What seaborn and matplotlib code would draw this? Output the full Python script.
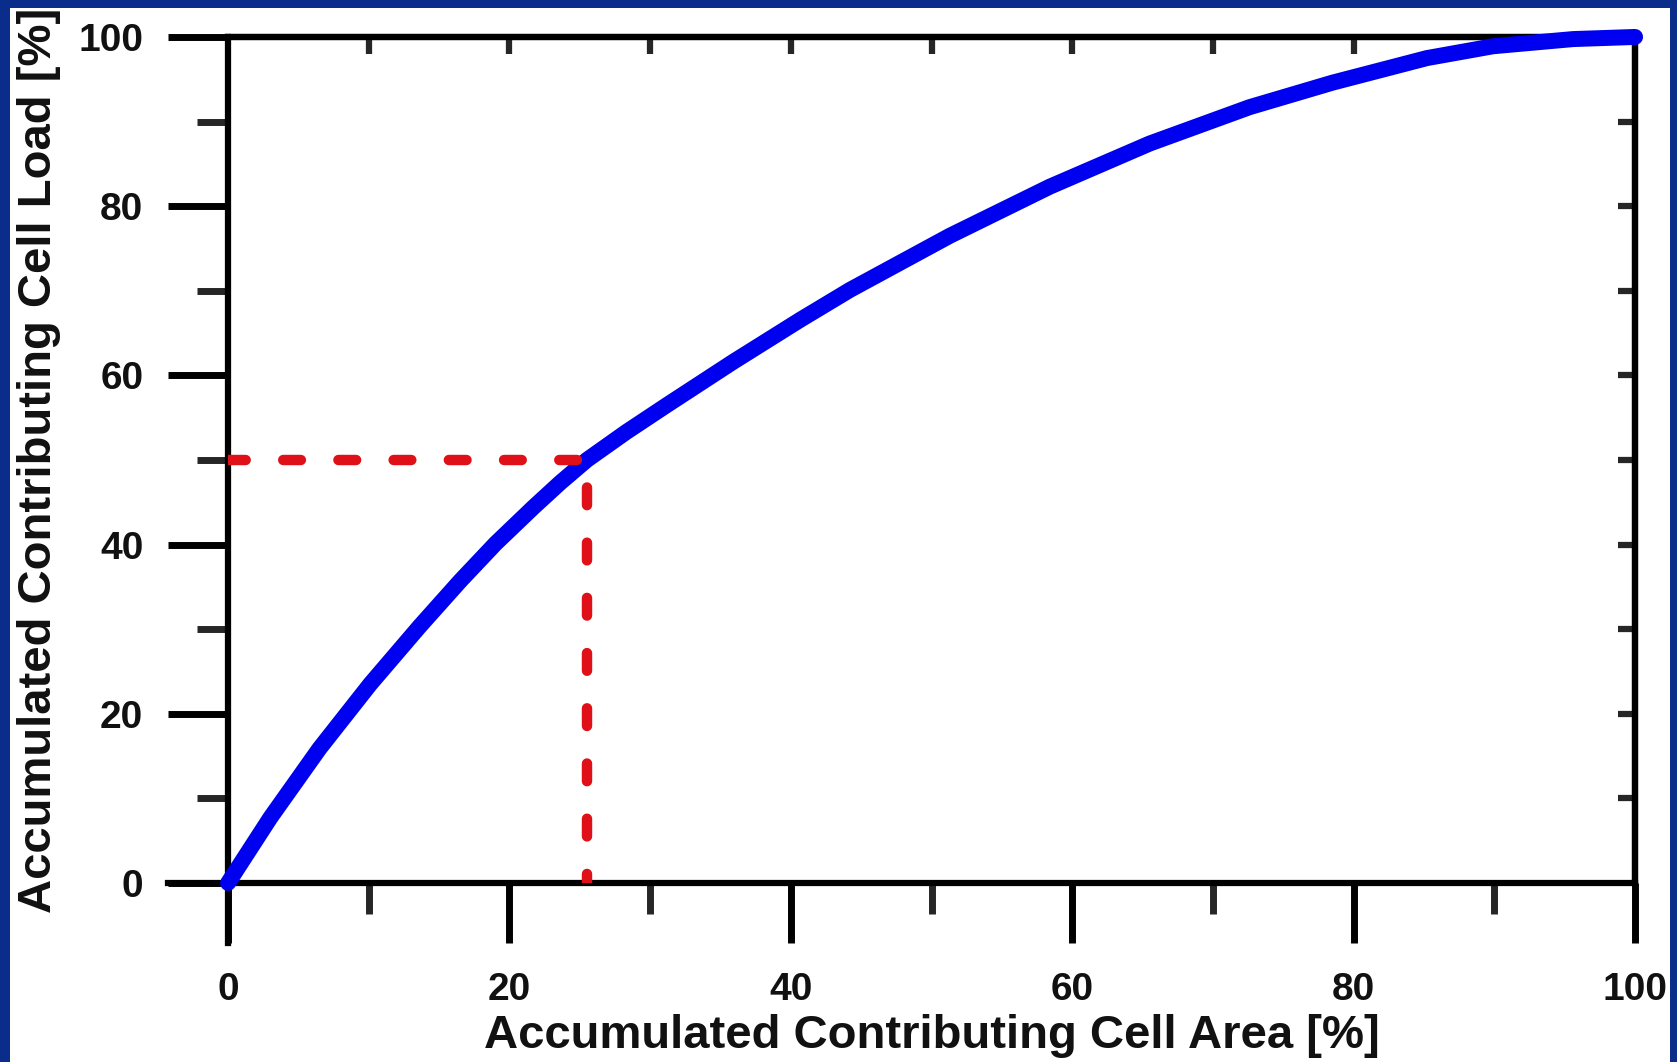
import numpy as np
import pandas as pd
import seaborn as sns
import matplotlib.pyplot as plt
from matplotlib.patches import Rectangle

# accumulated curve
area = [0, 3.0, 6.5, 10.1, 13.6, 16.5, 19.0, 21.7, 23.6, 25.5, 28.3, 31.2,
        35.9, 40.7, 44.2, 51.3, 58.4, 65.5, 72.6, 78.5, 85.2, 89.9, 95.6, 100]
load = [0, 7.7, 15.9, 23.5, 30.3, 35.7, 40.1, 44.4, 47.3, 50.0, 53.3, 56.5,
        61.6, 66.6, 70.1, 76.5, 82.3, 87.4, 91.7, 94.6, 97.5, 98.9, 99.75, 100]
half_area = 25.5
half_load = 50
xticks = [0, 20, 40, 60, 80, 100]
yticks = [0, 20, 40, 60, 80, 100]

sns.set_style('white')
plt.rcParams['font.family'] = ['Liberation Sans', 'DejaVu Sans']
plt.rcParams['font.weight'] = 'bold'

fig = plt.figure(figsize=(16.77, 10.62), dpi=100, facecolor='#0a2d8c')
fig.add_artist(Rectangle((10/1677, 0), 1660/1677, 1054/1062,
                         transform=fig.transFigure, facecolor='white',
                         edgecolor='none', zorder=-1))
ax = fig.add_axes([0.1360, 0.1686, 0.8390, 0.7966])

df = pd.DataFrame({'area': area, 'load': load})
sns.lineplot(data=df, x='area', y='load', ax=ax, color='#0000f0', lw=11.5,
             solid_capstyle='round', solid_joinstyle='round',
             clip_on=False, zorder=3)
ax.plot([0, half_area, half_area], [half_load, half_load, 0], color='#e01018',
        lw=7.5, dashes=(1.7, 3.6), dash_capstyle='round', zorder=4)

ax.set_xlim(0, 100)
ax.set_ylim(0, 100)
for s in ax.spines.values():
    s.set_visible(True)
    s.set_color('black')
    s.set_linewidth(4.5)
ax.spines['bottom'].set_bounds(-4.26, 100)
ax.spines['left'].set_bounds(-7.09, 100)

ax.set_xticks(xticks)
ax.set_yticks(yticks)
ax.set_xticks(np.arange(10, 100, 20), minor=True)
ax.set_yticks(np.arange(10, 100, 20), minor=True)
ax.tick_params(which='major', direction='out', length=43, width=5,
               labelsize=28, bottom=True, left=True, top=False, right=False,
               colors='black', labelcolor='#111111')
ax.tick_params(axis='x', which='major', pad=21)
ax.tick_params(axis='y', which='major', pad=18)
ax.tick_params(which='minor', direction='out', length=22, width=5,
               bottom=True, left=True, top=False, right=False)

secx = ax.secondary_xaxis('top')
secx.set_xticks(np.arange(10, 100, 10))
secx.tick_params(direction='in', length=12, width=4.5, top=True,
                 labeltop=False)
secx.spines['top'].set_linewidth(4.5)
secy = ax.secondary_yaxis('right')
secy.set_yticks(np.arange(10, 100, 10))
secy.tick_params(direction='in', length=12, width=4.5, right=True,
                 labelright=False)
secy.spines['right'].set_linewidth(4.5)

ax.set_xlabel('Accumulated Contributing Cell Area [%]', fontsize=34,
              fontweight='bold', color='#111111')
ax.set_ylabel('Accumulated Contributing Cell Load [%]', fontsize=34,
              fontweight='bold', color='#111111')
ax.xaxis.set_label_coords(0.5, -0.155)
ax.yaxis.set_label_coords(-0.119, 0.5)

fig.savefig('out.png', dpi=100, facecolor=fig.get_facecolor())
